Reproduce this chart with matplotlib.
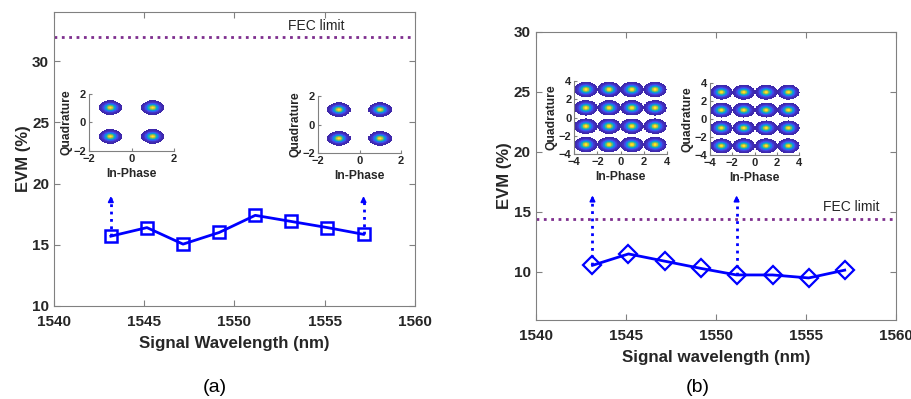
import numpy as np
import matplotlib
matplotlib.use("Agg")
import matplotlib.pyplot as plt
from matplotlib.colors import LinearSegmentedColormap

plt.rcParams['font.family'] = ['Liberation Sans', 'DejaVu Sans']

# ---------------- data ----------------
wavelength = [1543.15, 1545.15, 1547.15, 1549.15, 1551.15, 1553.15, 1555.15, 1557.15]
evm_a = [15.7, 16.4, 15.05, 16.0, 17.4, 16.9, 16.4, 15.85]
evm_b = [10.55, 11.5, 10.9, 10.3, 9.75, 9.75, 9.5, 10.15]
fec_a = 32.0
fec_b = 14.4
arrow_idx_a = [0, 7]
arrow_top_a = 19.2
arrow_idx_b = [0, 4]
arrow_top_b = 16.6
qpsk_levels = [-1, 1]
qam16_levels = [-3, -1, 1, 3]
xticks_main = [1540, 1545, 1550, 1555, 1560]
yticks_a = [10, 15, 20, 25, 30]
yticks_b = [10, 15, 20, 25, 30]

parula = LinearSegmentedColormap.from_list('parula', [
    (0.2422, 0.1504, 0.6603), (0.2803, 0.2782, 0.9221), (0.1085, 0.4557, 0.9556),
    (0.0590, 0.5820, 0.8410), (0.0780, 0.6850, 0.7310), (0.2750, 0.7440, 0.5390),
    (0.6000, 0.7480, 0.3000), (0.9000, 0.7300, 0.2400), (0.9769, 0.9839, 0.0805)])

GRAY = '#808080'
TXT = '#262626'
BLUE = '#0000ff'
PURPLE = '#7e2f8e'

fig = plt.figure(figsize=(9.12, 3.99), dpi=100)


def style_main(ax):
    for s in ax.spines.values():
        s.set_color(GRAY)
        s.set_linewidth(0.8)
    ax.tick_params(direction='in', top=True, right=True, color=GRAY,
                   labelcolor=TXT, labelsize=11, length=4, width=0.8)
    ax.tick_params(axis='x', pad=6.5)
    for lab in ax.get_xticklabels() + ax.get_yticklabels():
        lab.set_fontweight('bold')


def constellation(rect, levels, lim, sx, sy, ticks, thr):
    ax = fig.add_axes(rect)
    g = np.linspace(-lim, lim, 140)
    X, Y = np.meshgrid(g, g)
    Z = np.zeros_like(X)
    for cx in levels:
        for cy in levels:
            Z = np.maximum(Z, np.exp(-((X - cx) ** 2 / (2 * sx ** 2) + (Y - cy) ** 2 / (2 * sy ** 2))))
    Z = np.ma.masked_less(Z, thr)
    ax.imshow(Z ** 1.8, extent=[-lim, lim, -lim, lim], origin='lower', cmap=parula,
              interpolation='nearest', aspect='auto', vmin=0, vmax=1.0)
    ax.set_xlim(-lim, lim)
    ax.set_ylim(-lim, lim)
    ax.set_xticks(ticks)
    ax.set_yticks(ticks)
    ax.spines['top'].set_visible(False)
    ax.spines['right'].set_visible(False)
    for s in ['left', 'bottom']:
        ax.spines[s].set_color(GRAY)
        ax.spines[s].set_linewidth(0.8)
    ax.tick_params(direction='in', color=GRAY, labelcolor=TXT, labelsize=8,
                   length=2.5, width=0.8, pad=2)
    for lab in ax.get_xticklabels() + ax.get_yticklabels():
        lab.set_fontweight('bold')
    ax.set_xlabel('In-Phase', fontsize=8.7, fontweight='bold', color=TXT, labelpad=3)
    ax.set_ylabel('Quadrature', fontsize=8.7, fontweight='bold', color=TXT, labelpad=1)
    ax.patch.set_alpha(0)
    return ax


def arrows(ax, idx, top, ys):
    for i in idx:
        ax.plot([wavelength[i], wavelength[i]], [ys[i], top - 0.4], ls=':', color=BLUE, lw=2)
        ax.annotate('', xy=(wavelength[i], top), xytext=(wavelength[i], top - 0.9),
                    arrowprops=dict(arrowstyle='-|>', color=BLUE, lw=1.2, mutation_scale=8))


# ---------------- panel (a) ----------------
axa = fig.add_axes([0.0592, 0.2331, 0.3958, 0.7368])
axa.plot(wavelength, evm_a, '-s', color=BLUE, lw=2, ms=8.5, mfc='none', mew=1.8)
axa.axhline(fec_a, ls=':', color=PURPLE, lw=2)
axa.text(1554.55, fec_a + 0.25, 'FEC limit', fontsize=10, color=TXT, ha='center', va='bottom')
arrows(axa, arrow_idx_a, arrow_top_a, evm_a)
axa.set_xlim(1540, 1560)
axa.set_ylim(10, 34)
axa.set_xticks(xticks_main)
axa.set_yticks(yticks_a)
style_main(axa)
axa.set_xlabel('Signal Wavelength (nm)', fontsize=12.2, fontweight='bold', color=TXT, labelpad=5)
axa.set_ylabel('EVM (%)', fontsize=12, fontweight='bold', color=TXT, labelpad=1)
fig.text(215 / 912, 1 - 387 / 399, '(a)', fontsize=14, ha='center', va='center', color='black')

constellation([0.0976, 0.6216, 0.0932, 0.1429], qpsk_levels, 2, 0.225, 0.205, [-2, 0, 2], 0.05)
constellation([0.3487, 0.6165, 0.0910, 0.1429], qpsk_levels, 2, 0.235, 0.205, [-2, 0, 2], 0.05)

# ---------------- panel (b) ----------------
axb = fig.add_axes([0.5874, 0.198, 0.3951, 0.7226])
axb.plot(wavelength, evm_b, '-D', color=BLUE, lw=2, ms=9.5, mfc='none', mew=1.6)
axb.axhline(fec_b, ls=':', color=PURPLE, lw=2)
axb.text(1557.5, fec_b + 0.45, 'FEC limit', fontsize=10, color=TXT, ha='center', va='bottom')
arrows(axb, arrow_idx_b, arrow_top_b, evm_b)
axb.set_xlim(1540, 1560)
axb.set_ylim(6, 30)
axb.set_xticks(xticks_main)
axb.set_yticks(yticks_b)
style_main(axb)
axb.set_xlabel('Signal wavelength (nm)', fontsize=12.2, fontweight='bold', color=TXT, labelpad=5)
axb.set_ylabel('EVM (%)', fontsize=12, fontweight='bold', color=TXT, labelpad=1)
fig.text(698 / 912, 1 - 387 / 399, '(b)', fontsize=14, ha='center', va='center', color='black')

constellation([0.6297, 0.614, 0.1016, 0.183], qam16_levels, 4, 0.41, 0.35, [-4, -2, 0, 2, 4], 0.05)
constellation([0.7785, 0.6115, 0.0979, 0.1797], qam16_levels, 4, 0.41, 0.35, [-4, -2, 0, 2, 4], 0.05)

fig.savefig('out.png', dpi=100)
